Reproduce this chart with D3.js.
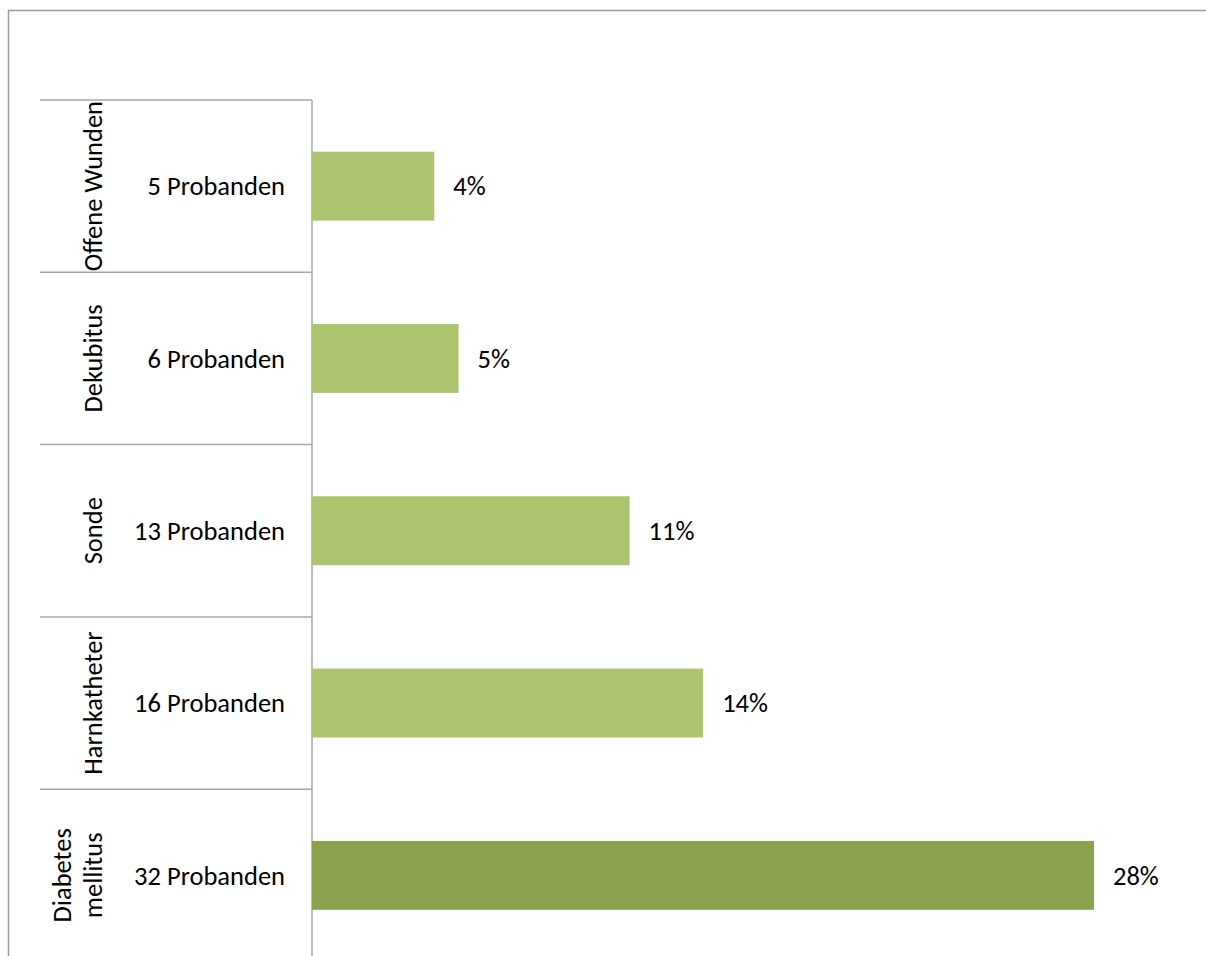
<!DOCTYPE html>
<html>
<head>
<meta charset="utf-8">
<script src="https://cdn.jsdelivr.net/npm/d3@7"></script>
<style>
  html, body { margin: 0; padding: 0; background: #fff; }
  svg { display: block; }
  text { font-family: Carlito, Lato, sans-serif; fill: #000; }
</style>
</head>
<body>
<script>
// categories, top to bottom
const categories = ["Offene Wunden", "Dekubitus", "Sonde", "Harnkatheter", "Diabetes mellitus"];
const catLines = [["Offene Wunden"], ["Dekubitus"], ["Sonde"], ["Harnkatheter"], ["Diabetes", "mellitus"]];
const counts = ["5 Probanden", "6 Probanden", "13 Probanden", "16 Probanden", "32 Probanden"];
const values = [4.39, 5.26, 11.40, 14.04, 28.07];
const pctLabels = ["4%", "5%", "11%", "14%", "28%"];

const width = 1206, height = 956;
const axisX = 312, topY = 100, step = 172.3;

const data = categories.map((c, i) => ({name: c, lines: catLines[i], count: counts[i], value: values[i], label: pctLabels[i]}));

const y = d3.scaleBand()
    .domain(categories)
    .range([topY, topY + step * categories.length])
    .paddingInner(0.6)
    .paddingOuter(0.3);

const x = d3.scaleLinear()
    .domain([0, 28.07])
    .range([axisX, 1094]);

const svg = d3.select("body").append("svg")
    .attr("width", width)
    .attr("height", height);

// outer frame (top and left edges visible)
svg.append("path")
    .attr("d", `M8.5,${height}V10.5H${width}`)
    .attr("fill", "none")
    .attr("stroke", "#9b9b9b")
    .attr("stroke-width", 1.5);

const cellTop = d => y(d) - y.step() * y.paddingOuter();

// category grid
const grid = svg.append("g").attr("stroke", "#a6a6a6").attr("stroke-width", 1.5);
grid.selectAll("line.h")
    .data(categories)
    .join("line")
    .attr("class", "h")
    .attr("x1", 40).attr("x2", axisX)
    .attr("y1", d => cellTop(d)).attr("y2", d => cellTop(d));
grid.append("line")
    .attr("x1", axisX).attr("x2", axisX)
    .attr("y1", topY).attr("y2", height);

// bars
svg.append("g")
    .selectAll("rect")
    .data(data)
    .join("rect")
    .attr("x", x(0))
    .attr("y", d => y(d.name))
    .attr("width", d => x(d.value) - x(0))
    .attr("height", y.bandwidth())
    .attr("fill", (d, i) => i === data.length - 1 ? "#8ba14c" : "#abc46d");

const fs = 26.5;

// percent labels
svg.append("g")
    .selectAll("text")
    .data(data)
    .join("text")
    .attr("x", d => x(d.value) + 19)
    .attr("y", d => y(d.name) + y.bandwidth() / 2)
    .attr("dy", "0.35em")
    .attr("font-size", fs)
    .text(d => d.label);

// count labels
svg.append("g")
    .selectAll("text")
    .data(data)
    .join("text")
    .attr("x", axisX - 27)
    .attr("y", d => y(d.name) + y.bandwidth() / 2)
    .attr("dy", "0.35em")
    .attr("text-anchor", "end")
    .attr("font-size", fs)
    .text(d => d.count);

// rotated category labels
const cat = svg.append("g")
    .selectAll("g")
    .data(data)
    .join("g")
    .attr("transform", d => `translate(93,${y(d.name) + y.bandwidth() / 2}) rotate(-90)`);

cat.selectAll("text")
    .data(d => d.lines.map((t, j) => ({t, j, n: d.lines.length})))
    .join("text")
    .attr("text-anchor", "middle")
    .attr("x", 0)
    .attr("y", d => (d.j - (d.n - 1)) * 31)
    .attr("dy", "0.35em")
    .attr("font-size", fs)
    .text(d => d.t);
</script>
</body>
</html>
